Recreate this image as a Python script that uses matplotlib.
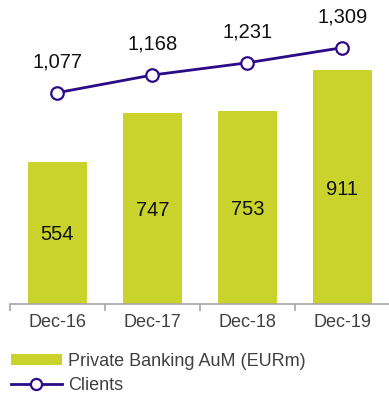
import matplotlib
matplotlib.use("Agg")
import matplotlib.pyplot as plt
from matplotlib.patches import Patch
from matplotlib.lines import Line2D
from matplotlib.ticker import FixedLocator

plt.rcParams['font.family'] = ['Liberation Sans', 'DejaVu Sans']

periods = ["Dec-16", "Dec-17", "Dec-18", "Dec-19"]
aum = [554, 747, 753, 911]
clients = [1077, 1168, 1231, 1309]

bar_color = "#CAD22C"
line_color = "#2C0A88"
axis_gray = "#A6A6A6"

fig = plt.figure(figsize=(3.89, 3.95), dpi=100)
ax = fig.add_axes([10 / 389, 91 / 395, 380 / 389, 294 / 395])
x = list(range(len(periods)))

bars = ax.bar(x, aum, width=0.63, color=bar_color, zorder=2)
for xi, v in zip(x, aum):
    ax.text(xi, v / 2, f"{v:,}", ha="center", va="center_baseline", fontsize=14.5, color="#111111")

ax.set_xlim(-0.5, 3.5)
ax.set_ylim(0, 1147)
ax.set_yticks([])
for s in ("top", "right", "left"):
    ax.spines[s].set_visible(False)
ax.spines["bottom"].set_color(axis_gray)
ax.spines["bottom"].set_linewidth(1.2)
ax.set_xticks(x)
ax.set_xticklabels(periods, fontsize=13, color="#404040")
ax.tick_params(axis="x", which="major", length=0, pad=7)
ax.xaxis.set_minor_locator(FixedLocator([-0.5, 0.5, 1.5, 2.5, 3.5]))
ax.tick_params(axis="x", which="minor", length=5, width=1.2, color=axis_gray)

ax2 = ax.twinx()
ax2.set_ylim(-12, 1503)
ax2.axis("off")
ax2.plot(x, clients, color=line_color, linewidth=2, marker="o", markersize=9,
         markerfacecolor="white", markeredgecolor=line_color, markeredgewidth=1.6, zorder=3)
for xi, v in zip(x, clients):
    ax2.annotate(f"{v:,}", (xi, v), xytext=(0, 22), textcoords="offset points",
                 ha="center", va="center", fontsize=14.5, color="#111111")

handles = [
    Patch(facecolor=bar_color, edgecolor="none"),
    Line2D([], [], color=line_color, linewidth=2, marker="o", markersize=8,
           markerfacecolor="white", markeredgecolor=line_color, markeredgewidth=1.6),
]
fig.legend(handles, ["Private Banking AuM (EURm)", "Clients"], loc="upper left",
           bbox_to_anchor=(11 / 389, 42 / 395), frameon=False, fontsize=13,
           handlelength=2.8, handleheight=0.55, handletextpad=0.35,
           labelspacing=0.38, borderaxespad=0, borderpad=0, labelcolor="#404040")

fig.savefig("out.png", dpi=100)
